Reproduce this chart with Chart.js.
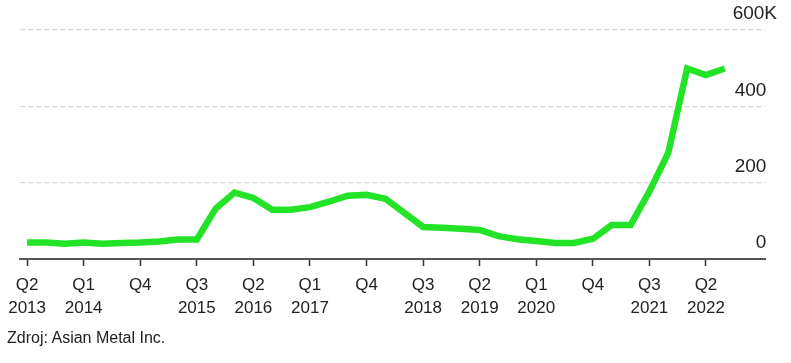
<!DOCTYPE html>
<html>
<head>
<meta charset="utf-8">
<script src="https://cdn.jsdelivr.net/npm/chart.js@4.4.1/dist/chart.umd.min.js"></script>
<style>
  html, body { margin: 0; padding: 0; background: #ffffff; }
  #wrap { position: relative; width: 791px; height: 363px; overflow: hidden; }
  #c { position: absolute; left: 0; top: 0; }
  #src { position: absolute; left: 7px; top: 330px; font: 16px/16px "Liberation Sans", Arial, sans-serif; color: #222; white-space: nowrap; }
</style>
</head>
<body>
<div id="wrap">
  <canvas id="c" width="791" height="363"></canvas>
  <div id="src">Zdroj: Asian Metal Inc.</div>
</div>
<script>
// Quarterly periods, Q2 2013 – Q3 2022
const quarters = [
  "Q2 2013","Q3 2013","Q4 2013",
  "Q1 2014","Q2 2014","Q3 2014","Q4 2014",
  "Q1 2015","Q2 2015","Q3 2015","Q4 2015",
  "Q1 2016","Q2 2016","Q3 2016","Q4 2016",
  "Q1 2017","Q2 2017","Q3 2017","Q4 2017",
  "Q1 2018","Q2 2018","Q3 2018","Q4 2018",
  "Q1 2019","Q2 2019","Q3 2019","Q4 2019",
  "Q1 2020","Q2 2020","Q3 2020","Q4 2020",
  "Q1 2021","Q2 2021","Q3 2021","Q4 2021",
  "Q1 2022","Q2 2022","Q3 2022"
];
// Values in thousands (K)
const values = [
  43, 43, 40,
  43, 40, 42, 43,
  46, 51, 51, 132,
  174, 160, 129, 129,
  136, 150, 166, 168,
  158, 121, 84, 82,
  79, 76, 60, 52,
  47, 42, 42, 53,
  89, 89, 177, 278,
  499, 482, 499
];
// Axis tick labels (every third quarter), and their quarter index
const xTickLabels = [
  ["Q2","2013"], ["Q1","2014"], ["Q4"], ["Q3","2015"], ["Q2","2016"],
  ["Q1","2017"], ["Q4"], ["Q3","2018"], ["Q2","2019"], ["Q1","2020"],
  ["Q4"], ["Q3","2021"], ["Q2","2022"]
];
const xTickIndex = [0, 3, 6, 9, 12, 15, 18, 21, 24, 27, 30, 33, 36];
const yTicks = [0, 200, 400, 600];
const yTickLabels = ["0", "200", "400", "600K"];

const points = values.map((v, i) => ({ x: i, y: v }));

Chart.defaults.font.family = '"Liberation Sans", Arial, sans-serif';
Chart.defaults.color = '#222';

new Chart(document.getElementById('c'), {
  type: 'line',
  data: {
    datasets: [{
      label: 'Cena',
      data: points,
      borderColor: '#22e326',
      borderWidth: 6.5,
      pointRadius: 0,
      pointHoverRadius: 0,
      tension: 0,
      fill: false
    }]
  },
  options: {
    responsive: false,
    animation: false,
    events: [],
    layout: { padding: { left: 20, right: 2, top: 30, bottom: 36 } },
    plugins: { legend: { display: false }, tooltip: { enabled: false }, title: { display: false } },
    scales: {
      x: {
        type: 'linear',
        min: -0.355,
        max: 39.13,
        afterBuildTicks: (scale) => { scale.ticks = xTickIndex.map(v => ({ value: v })); },
        afterFit: (scale) => { scale.height = 68; },
        grid: {
          display: true,
          drawOnChartArea: false,
          drawTicks: true,
          tickLength: 7,
          tickColor: '#333',
          tickWidth: 1.5
        },
        border: { display: true, color: '#555', width: 2 },
        ticks: {
          autoSkip: false,
          maxRotation: 0,
          minRotation: 0,
          padding: 8,
          font: { size: 17, lineHeight: 1.33 },
          color: '#222',
          callback: (v) => {
            const k = xTickIndex.indexOf(v);
            return k >= 0 ? xTickLabels[k] : '';
          }
        }
      },
      y: {
        position: 'right',
        min: 0,
        max: 600,
        afterBuildTicks: (scale) => { scale.ticks = yTicks.map(v => ({ value: v })); },
        grid: {
          display: true,
          drawTicks: false,
          color: '#d6d6d6',
          lineWidth: 1.2
        },
        border: { display: false, dash: [5, 3] },
        ticks: {
          mirror: true,
          padding: 12,
          labelOffset: -16,
          font: { size: 19 },
          color: '#222',
          callback: (v) => {
            const k = yTicks.indexOf(v);
            const t = k >= 0 ? yTickLabels[k] : '';
            return t.endsWith('K') ? t : t + '\u2007';
          }
        }
      }
    }
  }
});
</script>
</body>
</html>
